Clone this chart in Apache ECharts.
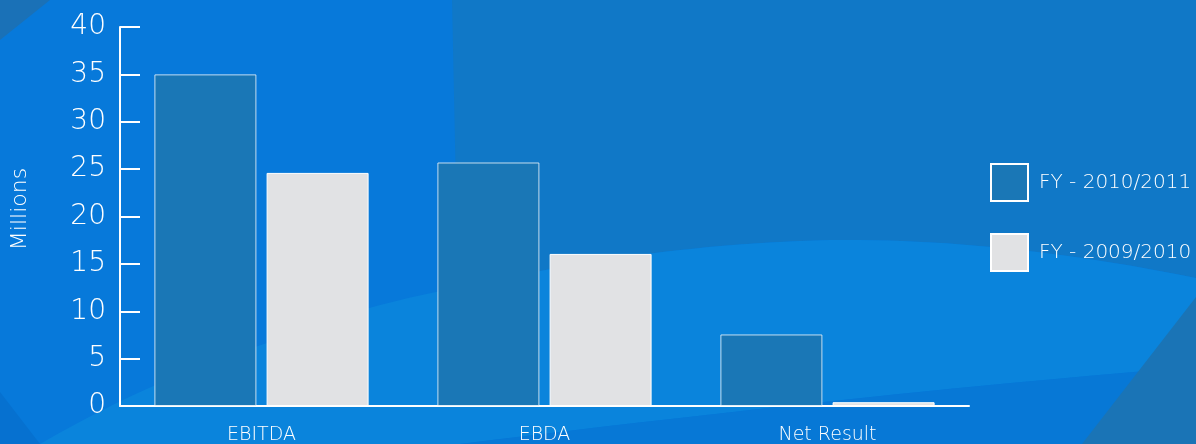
<!DOCTYPE html>
<html>
<head>
<meta charset="utf-8">
<script src="https://cdn.jsdelivr.net/npm/echarts@6/dist/echarts.min.js"></script>
<style>
html,body{margin:0;padding:0;background:#0779da;}
#chart{width:1196px;height:444px;}
</style>
</head>
<body>
<div id="chart"></div>
<script>
const categories = ['EBITDA', 'EBDA', 'Net Result'];
const seriesNames = ['FY - 2010/2011', 'FY - 2009/2010'];
const fy2011 = [35, 25.7, 7.55];
const fy2010 = [24.6, 16.05, 0.4];
const yTicks = { min: 0, max: 40, interval: 5 };
const yAxisTitle = 'Millions';

const FONT = 'DejaVu Sans';
const FW = 200;
const chart = echarts.init(document.getElementById('chart'));

// background decoration shapes: sequence of commands [['M',x,y],['L',x,y],['Q',cx,cy,x,y]]
function shapePoints(cmds) {
  const pts = [];
  let cur = [0, 0];
  cmds.forEach(c => {
    if (c[0] === 'M' || c[0] === 'L') { cur = [c[1], c[2]]; pts.push(cur); }
    else if (c[0] === 'Q') {
      const p0 = cur, cp = [c[1], c[2]], p1 = [c[3], c[4]];
      for (let i = 1; i <= 24; i++) {
        const t = i / 24, u = 1 - t;
        pts.push([u * u * p0[0] + 2 * u * t * cp[0] + t * t * p1[0], u * u * p0[1] + 2 * u * t * cp[1] + t * t * p1[1]]);
      }
      cur = p1;
    }
  });
  return pts;
}
function poly(cmds, fill) {
  return { type: 'polygon', shape: { points: shapePoints(cmds) }, style: { fill: fill }, silent: true, z: -10 };
}

const bg = [
  poly([['M',452,0],['L',1196,0],['L',1196,278],['Q',1000,238,830,240],['Q',650,244,458,288]], '#1078c7'),
  poly([['M',40,444],['Q',150,380,267,343],['Q',360,305,458,288],['Q',650,244,830,240],['Q',1000,238,1196,278],['L',1196,367],['Q',900,390,460,444]], '#0a84dc'),
  poly([['M',460,444],['Q',900,390,1196,367],['L',1196,444]], '#0778d6'),
  poly([['M',0,392],['L',40,444],['L',0,444]], '#0671d0'),
  poly([['M',1196,297],['L',1082,444],['L',1196,444]], '#1a74b6'),
  poly([['M',0,0],['L',50,0],['L',0,40]], '#1a71b7'),
  {
    type: 'text', x: 20, y: 209, rotation: Math.PI / 2, silent: true, z: 10,
    style: { text: yAxisTitle, fill: '#ffffff', font: FW + ' 22px "' + FONT + '"', textAlign: 'center', textVerticalAlign: 'middle' }
  }
];

const option = {
  animation: false,
  backgroundColor: '#0779da',
  graphic: { elements: bg },
  grid: { left: 120, right: 227, top: 27, bottom: 38, containLabel: false, outerBoundsMode: 'none' },
  legend: {
    orient: 'vertical',
    left: 990,
    top: 163,
    padding: 0,
    itemWidth: 37,
    itemHeight: 37,
    itemGap: 31,
    icon: 'rect',
    data: seriesNames,
    itemStyle: { borderColor: '#ffffff', borderWidth: 2 },
    textStyle: { color: '#ffffff', fontFamily: FONT, fontWeight: FW, fontSize: 20, padding: [0, 0, 0, 6] }
  },
  xAxis: {
    type: 'category',
    data: categories,
    axisLine: { lineStyle: { color: '#ffffff', width: 2 } },
    axisTick: { show: false },
    axisLabel: { color: '#ffffff', fontFamily: FONT, fontWeight: FW, fontSize: 19, margin: 20 }
  },
  yAxis: {
    type: 'value',
    min: yTicks.min, max: yTicks.max, interval: yTicks.interval,
    axisLine: { show: true, lineStyle: { color: '#ffffff', width: 2 } },
    axisTick: { show: true, inside: true, length: 20, lineStyle: { color: '#ffffff', width: 2 } },
    splitLine: { show: false },
    axisLabel: { color: '#ffffff', fontFamily: FONT, fontWeight: FW, fontSize: 28, margin: 14 }
  },
  series: [
    {
      name: seriesNames[0], type: 'bar', data: fy2011,
      barWidth: 102, barGap: '10%',
      itemStyle: { color: '#1a77b6', borderColor: 'rgba(255,255,255,0.75)', borderWidth: 1 }
    },
    {
      name: seriesNames[1], type: 'bar', data: fy2010,
      barWidth: 102,
      itemStyle: { color: '#e1e2e4', borderColor: '#ffffff', borderWidth: 1 }
    }
  ]
};
chart.setOption(option);
</script>
</body>
</html>
